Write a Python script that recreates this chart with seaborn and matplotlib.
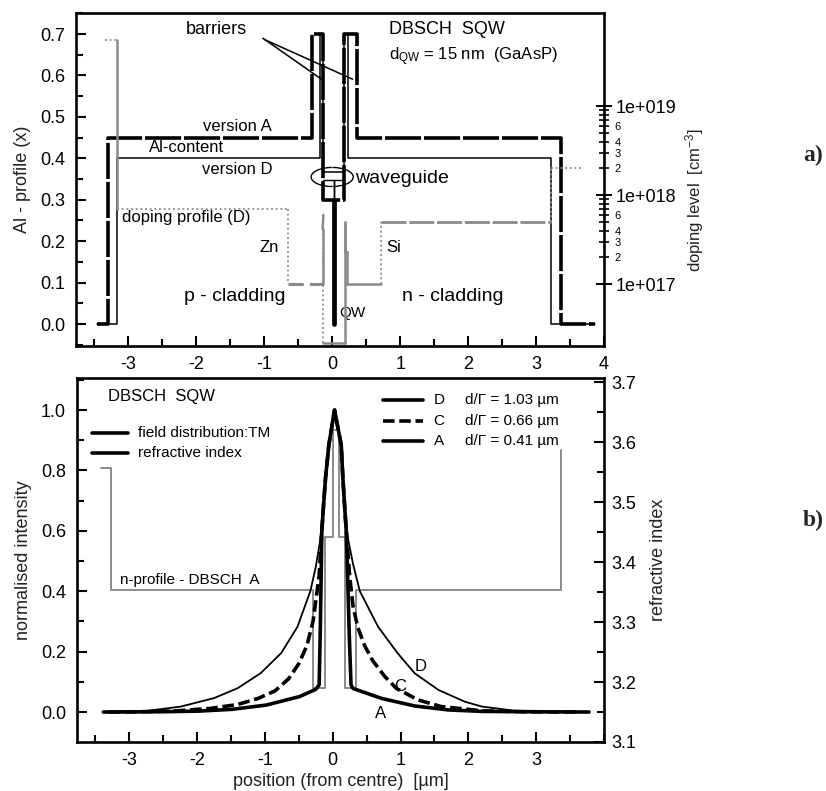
import numpy as np
import pandas as pd
import matplotlib
matplotlib.use("Agg")
import matplotlib.pyplot as plt
from matplotlib.patches import Arc
from matplotlib.lines import Line2D
from matplotlib.ticker import (FixedLocator, MultipleLocator, FuncFormatter,
                               FormatStrFormatter)
import seaborn as sns

# ---------------- (a) Al profile and doping of the DBSCH SQW structure -------
# version A: Al content along growth direction (µm)
alA_x = [-3.46, -3.30, -3.30, -0.29, -0.29, -0.13, -0.13, 0.18, 0.18, 0.37, 0.37, 3.36, 3.36, 3.87]
alA_y = [0.00, 0.00, 0.45, 0.45, 0.70, 0.70, 0.30, 0.30, 0.70, 0.70, 0.45, 0.45, 0.00, 0.00]
# version D
alD_x = [-3.46, -3.17, -3.17, -0.18, -0.18, -0.13, -0.13, 0.17, 0.17, 0.23, 0.23, 3.22, 3.22, 3.87]
alD_y = [0.00, 0.00, 0.40, 0.40, 0.70, 0.70, 0.367, 0.367, 0.70, 0.70, 0.40, 0.40, 0.00, 0.00]
# inner waveguide line and quantum well
wg_x = [-0.13, 0.03, 0.03, 0.03, 0.17]
wg_y = [0.347, 0.347, 0.30, 0.347, 0.347]
qw_x = [0.03, 0.03]
qw_y = [0.30, 0.00]

# doping profile (D), cm^-3
dop_x = [-3.34, -3.17, -3.17, -0.65, -0.65, -0.14, -0.14, -0.13, -0.13, 0.19, 0.19,
         0.19, 0.22, 0.22, 0.72, 0.72, 3.22, 3.22, 3.68]
dop_n = [5.5e19, 5.5e19, 7e17, 7e17, 1e17, 1e17, 4.2e17, 6e17, 2.2e16, 2.2e16, 5e17,
         2.3e17, 2.3e17, 1e17, 1e17, 5e17, 5e17, 2e18, 2e18]
dop_style = ["dotted", "solid", "dotted", "dotted", "dashed", "solid", "solid", "dotted",
             "solid", "solid", "solid", "solid", "solid", "solid", "dotted", "long",
             "dotted", "dotted"]

# ---------------- (b) near field intensity and refractive index -------------
D_x = [-3.38, -2.73, -2.24, -1.75, -1.40, -1.06, -0.76, -0.52, -0.33, -0.25, -0.19, -0.135,
       -0.106, -0.057, 0.027, 0.126, 0.15, 0.175, 0.22, 0.30, 0.40, 0.67, 0.96, 1.21,
       1.56, 1.95, 2.20, 2.69, 3.20, 3.78]
D_y = [0.0, 0.004, 0.018, 0.046, 0.079, 0.129, 0.195, 0.282, 0.40, 0.48, 0.56, 0.685,
       0.774, 0.884, 1.0, 0.884, 0.774, 0.685, 0.58, 0.49, 0.40, 0.282, 0.194, 0.128,
       0.073, 0.034, 0.018, 0.004, 0.001, 0.0]
C_x = [-3.30, -2.80, -2.30, -1.80, -1.40, -1.10, -0.85, -0.65, -0.50, -0.38, -0.29, -0.20,
       -0.16, -0.135, -0.106, -0.057, 0.027, 0.126, 0.15, 0.175, 0.20, 0.25, 0.30, 0.37,
       0.47, 0.59, 0.77, 0.94, 1.26, 1.60, 2.20, 2.80, 3.60]
C_y = [0.0, 0.001, 0.004, 0.012, 0.025, 0.045, 0.07, 0.11, 0.16, 0.22, 0.30, 0.45,
       0.60, 0.685, 0.774, 0.884, 1.0, 0.884, 0.774, 0.685, 0.60, 0.45, 0.35, 0.28,
       0.22, 0.17, 0.117, 0.078, 0.04, 0.018, 0.004, 0.001, 0.0]
A_x = [-3.38, -2.50, -1.97, -1.48, -0.98, -0.49, -0.25, -0.20, -0.185, -0.17, -0.16,
       -0.135, -0.106, -0.057, 0.027, 0.126, 0.15, 0.175, 0.20, 0.22, 0.245, 0.27, 0.30,
       0.72, 1.21, 1.70, 2.20, 3.20, 3.78]
A_y = [0.0, 0.001, 0.003, 0.009, 0.023, 0.051, 0.075, 0.09, 0.25, 0.45, 0.60,
       0.685, 0.774, 0.884, 1.0, 0.884, 0.774, 0.685, 0.597, 0.45, 0.25, 0.09, 0.078,
       0.045, 0.02, 0.007, 0.002, 0.0005, 0.0]
versions = ["D", "C", "A"]
d_gamma = ["1.03", "0.66", "0.41"]

# refractive index profile, DBSCH A
n_x = [-3.42, -3.27, -3.27, -0.29, -0.29, -0.12, -0.12, 0.00, 0.00, 0.09, 0.09, 0.175,
       0.175, 0.35, 0.35, 3.36, 3.36]
n_val = [3.557, 3.557, 3.353, 3.353, 3.19, 3.19, 3.442, 3.442, 3.62, 3.62, 3.442, 3.442,
         3.19, 3.19, 3.353, 3.353, 3.587]

# ---------------------------------------------------------------------------
sns.set_theme(style="white")
plt.rcParams["font.family"] = ["Liberation Sans", "DejaVu Sans"]
plt.rcParams["mathtext.fontset"] = "custom"
plt.rcParams["mathtext.rm"] = "Liberation Sans"
plt.rcParams["mathtext.it"] = "Liberation Sans:italic"
plt.rcParams["axes.unicode_minus"] = False

GRAY = "#8a8a8a"
FS = 13

W, H = 826, 791
fig = plt.figure(figsize=(W / 100, H / 100), dpi=100)
fig.patch.set_facecolor("white")


def frame(l, t, r, b):
    return [l / W, 1 - b / H, (r - l) / W, (b - t) / H]


def style_frame(ax):
    for s in ax.spines.values():
        s.set_visible(True)
        s.set_color("black")
        s.set_linewidth(1.9)


ax1 = fig.add_axes(frame(76, 12.5, 604, 346))
ax2 = fig.add_axes(frame(77, 378, 604, 742))
XLIM = (-3.77, 4.0)

# ======================= panel (a) ===========================
style_frame(ax1)
ax1.set_xlim(*XLIM)
ax1.set_ylim(-0.053, 0.752)

sns.lineplot(x=alA_x, y=alA_y, sort=False, estimator=None, color="black",
             linewidth=2.6, linestyle=(0, (10, 0.8)), ax=ax1)
sns.lineplot(x=alD_x, y=alD_y, sort=False, estimator=None, color="black",
             linewidth=1.1, ax=ax1)
sns.lineplot(x=wg_x, y=wg_y, sort=False, estimator=None, color="black",
             linewidth=1.0, ax=ax1)
sns.lineplot(x=qw_x, y=qw_y, sort=False, estimator=None, color="black",
             linewidth=3.4, ax=ax1)

# waveguide loop
ax1.add_patch(Arc((0.0, 0.355), 0.62, 0.046, theta1=100, theta2=260, color="black", lw=1.0))
ax1.add_patch(Arc((0.0, 0.355), 0.62, 0.046, theta1=-80, theta2=80, color="black", lw=1.0))

# barriers pointer
ax1.plot([-1.02, -0.14], [0.69, 0.589], color="black", lw=1.1)
ax1.plot([-1.00, 0.30], [0.687, 0.591], color="black", lw=1.1)

ax1.xaxis.set_major_locator(FixedLocator(np.arange(-3, 5)))
ax1.xaxis.set_minor_locator(MultipleLocator(0.5))
ax1.yaxis.set_major_locator(MultipleLocator(0.1))
ax1.yaxis.set_minor_locator(MultipleLocator(0.05))
ax1.yaxis.set_major_formatter(FormatStrFormatter("%.1f"))
ax1.tick_params(axis="both", which="both", direction="in", color="black", width=1.5,
                labelsize=FS, labelcolor="black", top=False, right=False,
                left=True, bottom=True)
ax1.tick_params(axis="both", which="major", length=7)
ax1.tick_params(axis="both", which="minor", length=5)
ax1.tick_params(axis="x", pad=7)
ax1.tick_params(axis="y", pad=8)
ax1.set_xlabel("")
ax1.set_ylabel("Al - profile (x)", fontsize=FS, color="#222222", labelpad=6)

# doping on log axis
axd = ax1.twinx()
axd.set_yscale("log")
axd.set_ylim(10 ** 16.307, 10 ** 20.051)
for s in axd.spines.values():
    s.set_visible(False)
seg_styles = {
    "dotted": dict(linestyle=(0, (1.2, 1.6)), linewidth=1.2),
    "solid": dict(linestyle="-", linewidth=1.8),
    "dashed": dict(linestyle=(0, (5, 2)), linewidth=2.2),
    "long": dict(linestyle=(0, (9, 1.0)), linewidth=2.0),
}
for i, st in enumerate(dop_style):
    axd.plot(dop_x[i:i + 2], dop_n[i:i + 2], color=GRAY, **seg_styles[st])

axd.yaxis.set_major_locator(FixedLocator([1e17, 1e18, 1e19]))
axd.yaxis.set_major_formatter(
    FuncFormatter(lambda v, p: "1e+0%d" % int(round(np.log10(v)))))
minor_pos = [m * 10.0 ** e for e in (17, 18) for m in range(2, 10)]
axd.yaxis.set_minor_locator(FixedLocator(minor_pos))


def minor_lab(v, p):
    m = int(round(v / 10 ** np.floor(np.log10(v) + 1e-9)))
    return str(m) if m in (2, 3, 4, 6) else ""


axd.yaxis.set_minor_formatter(FuncFormatter(minor_lab))
axd.tick_params(axis="y", which="major", direction="inout", length=11, width=1.4,
                labelsize=FS, pad=3, right=True, labelcolor="black", color="black")
axd.tick_params(axis="y", which="minor", direction="inout", length=7, width=1.2,
                labelsize=8, pad=4, right=True, labelcolor="black", color="black")
axd.set_ylabel(r"doping level  [cm$^{-3}$]", fontsize=FS - 1, color="#222222")
axd.yaxis.set_label_coords(1.15, 0.438)

# annotations
t_kw = dict(color="black")
ax1.text(-1.70, 0.711, "barriers", fontsize=FS, ha="center", va="center", **t_kw)
ax1.text(0.83, 0.712, "DBSCH  SQW", fontsize=FS, ha="left", va="center", **t_kw)
ax1.text(0.83, 0.645, r"d$_{\mathrm{QW}}$ = 15 nm  (GaAsP)", fontsize=FS - 1,
         ha="left", va="center", **t_kw)
ax1.text(-1.39, 0.477, "version A", fontsize=FS - 1, ha="center", va="center", **t_kw)
ax1.text(-2.14, 0.427, "Al-content", fontsize=FS - 1, ha="center", va="center", **t_kw)
ax1.text(-1.39, 0.373, "version D", fontsize=FS - 1, ha="center", va="center", **t_kw)
ax1.text(0.33, 0.352, "waveguide", fontsize=FS + 1, ha="left", va="center", **t_kw)
ax1.text(-3.09, 0.256, "doping profile (D)", fontsize=FS - 1, ha="left", va="center", **t_kw)
ax1.text(-0.92, 0.185, "Zn", fontsize=FS - 1, ha="center", va="center", **t_kw)
ax1.text(0.80, 0.185, "Si", fontsize=FS - 1, ha="left", va="center", **t_kw)
ax1.text(-1.43, 0.066, "p - cladding", fontsize=FS + 1, ha="center", va="center", **t_kw)
ax1.text(1.78, 0.066, "n - cladding", fontsize=FS + 1, ha="center", va="center", **t_kw)
ax1.text(0.10, 0.027, "QW", fontsize=FS - 2, ha="left", va="center", **t_kw)

# ======================= panel (b) ===========================
style_frame(ax2)
ax2.set_xlim(*XLIM)
ax2.set_ylim(-0.0993, 1.106)

axn = ax2.twinx()
axn.set_ylim(3.1, 3.707)
for s in axn.spines.values():
    s.set_visible(False)
# index profile sits underneath the intensity curves
axn.set_zorder(ax2.get_zorder() - 1)
ax2.patch.set_visible(False)
sns.lineplot(x=n_x, y=n_val, sort=False, estimator=None, color=GRAY, linewidth=1.4,
             ax=axn)

field = pd.concat([
    pd.DataFrame({"x": D_x, "I": D_y, "version": "D"}),
    pd.DataFrame({"x": C_x, "I": C_y, "version": "C"}),
    pd.DataFrame({"x": A_x, "I": A_y, "version": "A"}),
], ignore_index=True)
sns.lineplot(data=field, x="x", y="I", hue="version", size="version", style="version",
             palette={"D": "black", "C": "black", "A": "black"},
             sizes={"D": 1.3, "C": 2.6, "A": 2.6},
             dashes={"D": "", "C": (3.2, 1.3), "A": ""},
             sort=False, estimator=None, legend=False, ax=ax2)

ax2.xaxis.set_major_locator(FixedLocator(np.arange(-3, 4)))
ax2.xaxis.set_minor_locator(MultipleLocator(0.5))
ax2.yaxis.set_major_locator(MultipleLocator(0.2))
ax2.yaxis.set_minor_locator(MultipleLocator(0.1))
ax2.yaxis.set_major_formatter(FormatStrFormatter("%.1f"))
ax2.tick_params(axis="both", which="both", direction="in", color="black", width=1.5,
                labelsize=FS, labelcolor="black", top=False, right=False,
                left=True, bottom=True)
ax2.tick_params(axis="both", which="major", length=7)
ax2.tick_params(axis="both", which="minor", length=5)
ax2.tick_params(axis="x", pad=7)
ax2.tick_params(axis="y", pad=8)
ax2.set_xlabel("position (from centre)  [µm]", fontsize=FS, color="#222222", labelpad=3)
ax2.set_ylabel("normalised intensity", fontsize=FS, color="#222222", labelpad=6)

axn.yaxis.set_major_locator(MultipleLocator(0.1))
axn.yaxis.set_minor_locator(MultipleLocator(0.05))
axn.yaxis.set_major_formatter(FormatStrFormatter("%.1f"))
axn.tick_params(axis="y", which="both", direction="in", color="black", width=1.5,
                labelsize=FS, labelcolor="black", right=True, pad=5)
axn.tick_params(axis="y", which="major", length=7)
axn.tick_params(axis="y", which="minor", length=5)
axn.set_ylabel("refractive index", fontsize=FS, color="#222222", labelpad=10)

# legends drawn in axes fraction
tr = ax2.transAxes
ax2.text(0.059, 0.948, "DBSCH  SQW", transform=tr, fontsize=FS - 1, ha="left",
         va="center", color="black")
for yy, lab in zip([0.849, 0.794], ["field distribution:TM", "refractive index"]):
    ax2.add_line(Line2D([0.028, 0.097], [yy, yy], transform=tr, color="black", lw=2.6))
    ax2.text(0.116, yy, lab, transform=tr, fontsize=FS - 2, ha="left", va="center",
             color="black")
leg_dash = {"D": "-", "C": (0, (3.2, 1.3)), "A": "-"}
for yy, v, g in zip([0.940, 0.882, 0.827], versions, d_gamma):
    ax2.add_line(Line2D([0.581, 0.657], [yy, yy], transform=tr, color="black", lw=2.6,
                        linestyle=leg_dash[v]))
    ax2.text(0.687, yy, v, transform=tr, fontsize=FS - 2, ha="center", va="center",
             color="black")
    ax2.text(0.736, yy, "d/Γ = %s µm" % g, transform=tr, fontsize=FS - 2, ha="left",
             va="center", color="black")

ax2.text(-3.13, 0.437, "n-profile - DBSCH  A", fontsize=FS - 2, ha="left", va="center",
         color="black")
ax2.text(1.29, 0.15, "D", fontsize=FS - 1, ha="center", va="center", color="black")
ax2.text(0.99, 0.086, "C", fontsize=FS - 1, ha="center", va="center", color="black")
ax2.text(0.71, -0.004, "A", fontsize=FS - 1, ha="center", va="center", color="black")

# panel tags
fig.text(813 / W, 1 - 155 / H, "a)", fontsize=17, fontweight="bold",
         family="Liberation Serif", ha="center", va="center")
fig.text(813 / W, 1 - 520 / H, "b)", fontsize=17, fontweight="bold",
         family="Liberation Serif", ha="center", va="center")

fig.savefig("out.png", dpi=100, facecolor="white")
